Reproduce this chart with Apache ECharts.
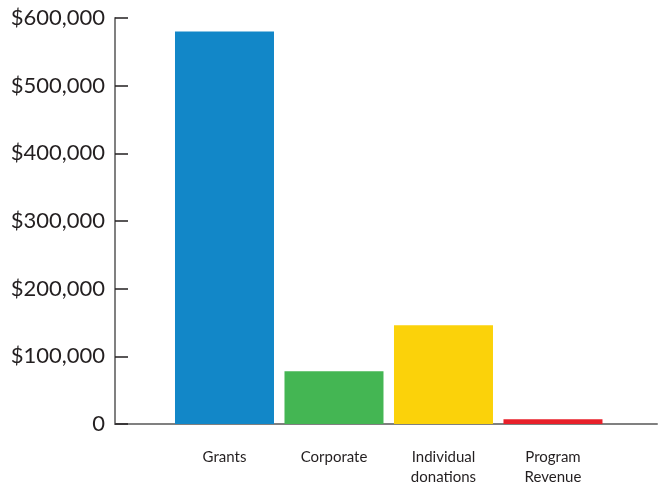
<!DOCTYPE html>
<html><head><meta charset="utf-8">
<script src="https://cdn.jsdelivr.net/npm/echarts@6/dist/echarts.min.js"></script>
<style>html,body{margin:0;padding:0;background:#fff}#c{width:659px;height:488px}</style>
</head><body><div id="c"></div>
<script>
const categories = ['Grants', 'Corporate', 'Individual\ndonations', 'Program\nRevenue'];
const values = [580000, 78000, 146000, 7000];
const colors = ['#1287c8', '#44b653', '#fbd20a', '#e8202a'];
const yTicks = [0, 100000, 200000, 300000, 400000, 500000, 600000];

const chart = echarts.init(document.getElementById('c'));
chart.setOption({
  animation: false,
  grid: { left: 115, right: 2, top: 18, bottom: 64 },
  xAxis: {
    type: 'value', min: 0, max: 4.95, interval: 1,
    splitLine: { show: false },
    axisLine: { show: true, lineStyle: { color: '#808080', width: 2 } },
    axisTick: { show: false },
    axisLabel: {
      showMaxLabel: false,
      formatter: v => (v >= 1 && v <= categories.length) ? categories[v - 1] : '',
      color: '#231f20', fontFamily: 'Lato', fontSize: 15, lineHeight: 20,
      verticalAlign: 'top', margin: 23
    }
  },
  yAxis: {
    type: 'value', min: 0, max: 600000, interval: 100000,
    splitLine: { show: false },
    axisLine: { show: true, lineStyle: { color: '#808080', width: 2 } },
    axisTick: { show: true, inside: true, length: 13, lineStyle: { color: '#231f20', width: 1.5 } },
    axisLabel: {
      formatter: v => v === 0 ? '0' : '$' + v.toLocaleString('en-US'),
      color: '#231f20', fontFamily: 'Lato', fontSize: 22, margin: 10
    }
  },
  series: [{
    type: 'bar', barWidth: 99,
    data: values.map((v, i) => ({ value: [i + 1, v], itemStyle: { color: colors[i] } }))
  }]
});
</script></body></html>
